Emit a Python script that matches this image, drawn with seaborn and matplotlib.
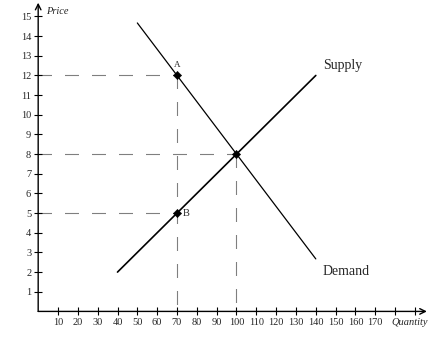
import numpy as np
import pandas as pd
import matplotlib
matplotlib.use("Agg")
import matplotlib.pyplot as plt
import seaborn as sns

# data
supply_q = [40, 140]
supply_p = [2, 12]
demand_q = [50, 140]
demand_p = [14.67, 2.67]
point_q = [70, 100, 70]
point_p = [12, 8, 5]
point_lab = ["A", "", "B"]
x_ticks = list(range(10, 200, 10))
x_tick_labels = [str(v) if v <= 170 else "" for v in x_ticks]
y_ticks = list(range(1, 16))

sns.set_style("white")
plt.rcParams["font.family"] = ["Liberation Serif", "DejaVu Serif"]

fig = plt.figure(figsize=(4.29, 3.52), dpi=100)
ax = fig.add_axes([0.089, 0.1153, 0.906, 0.877])
ax.set_xlim(0, 196)
ax.set_ylim(0, 15.7)

# guide lines: dashes made of 1px dots
px = 0.72 / 0.8  # one pixel in dash units at lw=0.8
dotdash = (px, px) * 6 + (px, 14 * px)
dash = dict(color="black", lw=0.8, dashes=dotdash)
ax.plot([0, 70], [12, 12], **dash)
ax.plot([0, 100], [8, 8], **dash)
ax.plot([0, 70], [5, 5], **dash)
ax.plot([70, 70], [12, 0], **dash)
ax.plot([100, 100], [8, 0], **dash)

sup = pd.DataFrame({"q": supply_q, "p": supply_p})
dem = pd.DataFrame({"q": demand_q, "p": demand_p})
sns.lineplot(data=sup, x="q", y="p", ax=ax, color="black", lw=1.2)
sns.lineplot(data=dem, x="q", y="p", ax=ax, color="black", lw=0.9)

pts = pd.DataFrame({"q": point_q, "p": point_p})
sns.scatterplot(data=pts, x="q", y="p", ax=ax, color="black", marker="D", s=18, edgecolor="black", zorder=5)

ax.text(70 - 1.5, 12 + 0.35, point_lab[0], fontsize=6.5, ha="left", va="bottom")
ax.text(70 + 3, 5, point_lab[2], fontsize=7.5, ha="left", va="center")
ax.text(143.6, 12.5, "Supply", fontsize=10, ha="left", va="center")
ax.text(143.6, 2.05, "Demand", fontsize=10, ha="left", va="center")

# axes with arrows
for s in ax.spines.values():
    s.set_visible(False)
ax.annotate("", xy=(196, 0), xytext=(0, 0),
            arrowprops=dict(arrowstyle="->", lw=1.0, color="black", shrinkA=0, shrinkB=0),
            annotation_clip=False)
ax.annotate("", xy=(0, 15.7), xytext=(0, 0),
            arrowprops=dict(arrowstyle="->", lw=1.0, color="black", shrinkA=0, shrinkB=0),
            annotation_clip=False)

ax.set_xticks(x_ticks)
ax.set_xticklabels(x_tick_labels)
ax.set_yticks(y_ticks)
ax.set_yticklabels([str(v) for v in y_ticks])
ax.tick_params(axis="both", direction="inout", length=6, width=0.8, labelsize=7.5,
               color="black", bottom=True, left=True, pad=2)
ax.set_xlabel("")
ax.set_ylabel("")

ax.text(0.107, 0.966, "Price", transform=fig.transFigure, fontsize=7.5, style="italic",
        ha="left", va="center")
ax.text(0.997, 0.085, "Quantity", transform=fig.transFigure, fontsize=7.5, style="italic",
        ha="right", va="center")

fig.savefig("out.png", dpi=100)
